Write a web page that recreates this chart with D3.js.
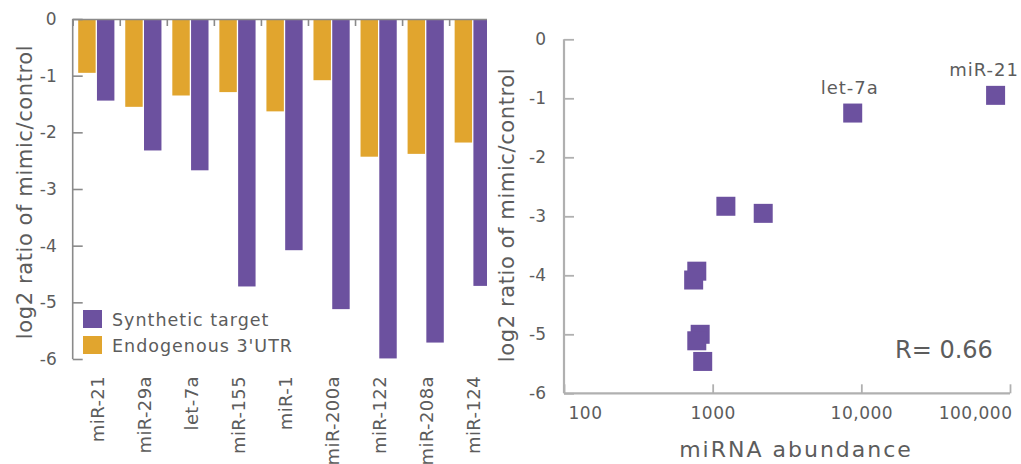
<!DOCTYPE html>
<html><head><meta charset="utf-8">
<script src="https://cdn.jsdelivr.net/npm/d3@7"></script>
<style>body{margin:0;background:#fff}svg{display:block}text{font-family:"DejaVu Sans",sans-serif}</style>
</head><body>
<script>
// ---- data ----
const categories = ["miR-21","miR-29a","let-7a","miR-155","miR-1","miR-200a","miR-122","miR-208a","miR-124"];
const series = ["Endogenous 3'UTR","Synthetic target"];
const endogenous = [-0.95,-1.55,-1.35,-1.29,-1.63,-1.08,-2.43,-2.38,-2.18];
const synthetic  = [-1.44,-2.32,-2.67,-4.72,-4.08,-5.12,-5.99,-5.71,-4.71];
const yTicks = [0,-1,-2,-3,-4,-5,-6];
const abundance = [80000,8750,1227,2188,782,745,824,782,857];
const ratio     = [-0.95,-1.25,-2.83,-2.95,-3.93,-4.08,-5.00,-5.11,-5.46];
const pointLabels = ["miR-21","let-7a","","","","","","",""];
const xTicks = [100,1000,10000,100000];
const xTickLabels = ["100","1000","10,000","100,000"];
const rText = "R= 0.66";

const W=1021,H=464;
const purple="#6C519F", orange="#E1A52E", axisGray="#8a8a8a", textGray="#5c5c5c";
const svg=d3.select("body").append("svg").attr("width",W).attr("height",H);
const fmt=d=>String(d);

// ===== left bar chart =====
svg.append("defs").append("clipPath").attr("id","lc").append("rect")
  .attr("x",0).attr("y",0).attr("width",487).attr("height",H);
const L=svg.append("g").attr("clip-path","url(#lc)");
const x0=d3.scaleBand().domain(categories).range([72.7,496.2]).paddingInner(0).paddingOuter(0);
const x1=d3.scaleBand().domain(series).range([5.5,41.7]).paddingInner(0.07);
const yL=d3.scaleLinear().domain([0,-6]).range([19,359]);
const rows=categories.map((c,i)=>({c,vals:[{s:series[0],v:endogenous[i]},{s:series[1],v:synthetic[i]}]}));
L.selectAll("g.grp").data(rows).join("g").attr("class","grp")
  .attr("transform",d=>`translate(${x0(d.c)},0)`)
  .selectAll("rect").data(d=>d.vals).join("rect")
  .attr("x",d=>x1(d.s)).attr("width",x1.bandwidth())
  .attr("y",yL(0)).attr("height",d=>yL(d.v)-yL(0))
  .attr("fill",d=>d.s===series[0]?orange:purple);
const topAx=L.append("g").attr("transform",`translate(0,${yL(0)})`)
  .call(d3.axisTop(d3.scaleLinear().domain([0,categories.length]).range([72.7,496.2]))
    .tickValues(d3.range(1,categories.length)).tickSize(-7).tickFormat(""));
topAx.selectAll("path,line").attr("stroke",axisGray).attr("stroke-width",1.6);
const yAxL=svg.append("g").attr("transform","translate(72.7,0)")
  .call(d3.axisLeft(yL).tickValues(yTicks).tickSize(-10).tickPadding(16).tickFormat(fmt));
yAxL.select(".domain").attr("d",`M0,${yL(0)}V${yL(-6)}`).attr("stroke",axisGray).attr("stroke-width",1.6);
yAxL.selectAll("line").attr("stroke",axisGray).attr("stroke-width",1.6);
yAxL.selectAll("text").attr("font-size",17).attr("fill",textGray);
svg.selectAll("text.cat").data(categories).join("text").attr("class","cat")
  .attr("transform",d=>`translate(${x0(d)+x0.bandwidth()/2+1},376) rotate(-90)`)
  .attr("text-anchor","end").attr("dy","0.35em").attr("font-size",18).attr("letter-spacing",0.4)
  .attr("fill",textGray).text(d=>d);
svg.append("text").attr("transform","translate(25,192) rotate(-90)")
  .attr("text-anchor","middle").attr("dy","0.35em").attr("font-size",21).attr("letter-spacing",0.6)
  .attr("fill",textGray).text("log2 ratio of mimic/control");
const leg=[{s:"Synthetic target",c:purple,y:310},{s:"Endogenous 3'UTR",c:orange,y:336}];
leg.forEach(l=>{
  svg.append("rect").attr("x",83).attr("y",l.y).attr("width",19).attr("height",18).attr("fill",l.c);
  svg.append("text").attr("x",112).attr("y",l.y+15.5).attr("font-size",17.5).attr("letter-spacing",1)
    .attr("fill",textGray).text(l.s);
});

// ===== right scatter =====
const xs=d3.scaleLog().domain([100,100000]).range([564,1010]);
const ys=d3.scaleLinear().domain([0,-6]).range([39.3,393.3]);
const light="#b0b0b0";
const yAxR=svg.append("g").attr("transform","translate(564,0)")
  .call(d3.axisLeft(ys).tickValues(yTicks).tickSize(-10).tickPadding(18).tickFormat(fmt));
yAxR.select(".domain").attr("d",`M0,${ys(0)}V${ys(-6)}`).attr("stroke",light).attr("stroke-width",2.2);
yAxR.selectAll("line").attr("stroke",light).attr("stroke-width",1.8);
yAxR.selectAll("text").attr("font-size",17).attr("fill",textGray);
const xAxR=svg.append("g").attr("transform",`translate(0,${ys(-6)})`)
  .call(d3.axisBottom(xs).tickValues(xTicks).tickSize(-9).tickPadding(14).tickFormat((d,i)=>xTickLabels[i]));
xAxR.select(".domain").attr("d",`M564,0H1010`).attr("stroke",light).attr("stroke-width",2.2);
xAxR.selectAll("line").attr("stroke",light).attr("stroke-width",1.8);
xAxR.selectAll("text").attr("font-size",17).attr("letter-spacing",0.5).attr("fill",textGray)
  .attr("text-anchor",(d,i)=>i===0?"start":(i===xTicks.length-1?"end":"middle"))
  .attr("dx",(d,i)=>i===0?4:(i===xTicks.length-1?2:0));
const pts=abundance.map((a,i)=>({a,r:ratio[i],l:pointLabels[i]}));
svg.selectAll("rect.pt").data(pts).join("rect").attr("class","pt")
  .attr("x",d=>xs(d.a)-9.5).attr("y",d=>ys(d.r)-9.5).attr("width",19).attr("height",19).attr("fill",purple);
const pl=svg.selectAll("text.pl").data(pts.filter(d=>d.l)).join("text").attr("class","pl")
  .attr("x",d=>xs(d.a)-3).attr("y",d=>ys(d.r)-19).attr("text-anchor","middle")
  .attr("font-size",18).attr("letter-spacing",1).attr("fill",textGray).text(d=>d.l);
pl.each(function(){
  const b=this.getBBox();
  if(b.x+b.width>W-2){ d3.select(this).attr("text-anchor","end").attr("x",W-2); }
});
svg.append("text").attr("x",895).attr("y",358).attr("font-size",24).attr("fill",textGray).text(rText);
svg.append("text").attr("x",796).attr("y",457).attr("text-anchor","middle").attr("font-size",22)
  .attr("letter-spacing",2).attr("fill",textGray).text("miRNA abundance");
svg.append("text").attr("transform","translate(507,215) rotate(-90)")
  .attr("text-anchor","middle").attr("dy","0.35em").attr("font-size",21).attr("letter-spacing",0.6)
  .attr("fill",textGray).text("log2 ratio of mimic/control");
</script>
</body></html>
